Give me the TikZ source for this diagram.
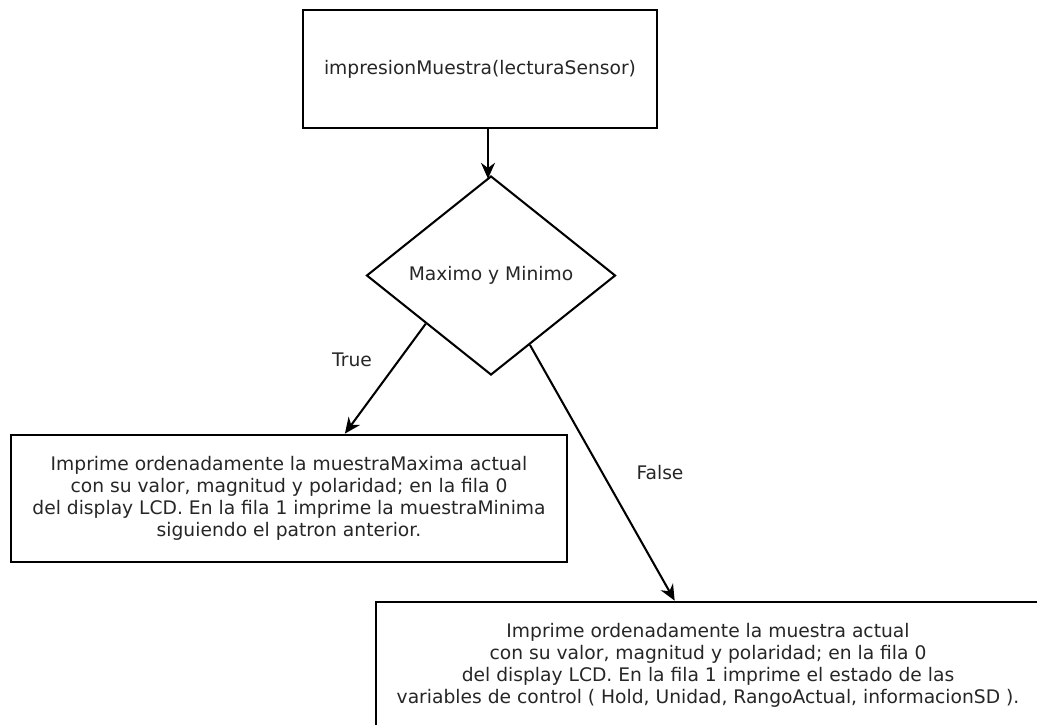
\documentclass[tikz,border=0pt]{standalone}
\usepackage{fontspec}
\setmainfont{DejaVu Sans}
\usetikzlibrary{shapes.geometric,arrows.meta,calc}

\begin{document}
\begin{tikzpicture}[x=0.0188cm,y=-0.0188cm,
        texto/.style={text=black!85,font=\fontsize{10}{11.8}\selectfont},
        caja/.style={texto,draw,line width=1.45pt,inner sep=0pt,align=center},
        rombo/.style={texto,draw,shape=diamond,line width=1.1pt,inner sep=0pt},
        flecha/.style={-{Stealth[length=8.5pt,width=7.5pt]},line width=1.1pt}]

    \useasboundingbox (0,0) rectangle (1037,724);

    % cajas y decision
    \node[caja,minimum width=6.655cm,minimum height=2.218cm] (impresion) at (480,69) {impresionMuestra(lecturaSensor)};
    \node[rombo,minimum width=4.681cm,minimum height=3.741cm] (decision) at (491,275.5) {Maximo y Minimo};
    \node[caja,minimum width=10.453cm,minimum height=2.388cm] (izquierda) at (289,498.5) {Imprime ordenadamente la muestraMaxima actual\\
        con su valor, magnitud y polaridad; en la fila 0\\
        del display LCD. En la fila 1 imprime la muestraMinima\\
        siguiendo el patron anterior.};
    \node[caja,minimum width=12.48cm,minimum height=2.369cm] (derecha) at (708,665) {Imprime ordenadamente la muestra actual\\
        con su valor, magnitud y polaridad; en la fila 0\\
        del display LCD. En la fila 1 imprime el estado de las\\
        variables de control ( Hold, Unidad, RangoActual, informacionSD ).};

    % etiquetas
    \node[texto] (verdadero) at (352,360) {True};
    \node[texto] (falso) at (660,473) {False};

    % flechas
    \draw[flecha] ([xshift=0.15cm]impresion.south) -- ([xshift=0.15cm,yshift=-2pt]impresion.south |- decision.north);
    \draw[flecha] ($(decision.west)!0.48!(decision.south)$) -- ($(izquierda.north west)!0.6!(izquierda.north east)$);
    \draw[flecha] ($(decision.south)!0.31!(decision.east)$) -- ($(derecha.north west)!0.45!(derecha.north east)$);
\end{tikzpicture}
\end{document}
